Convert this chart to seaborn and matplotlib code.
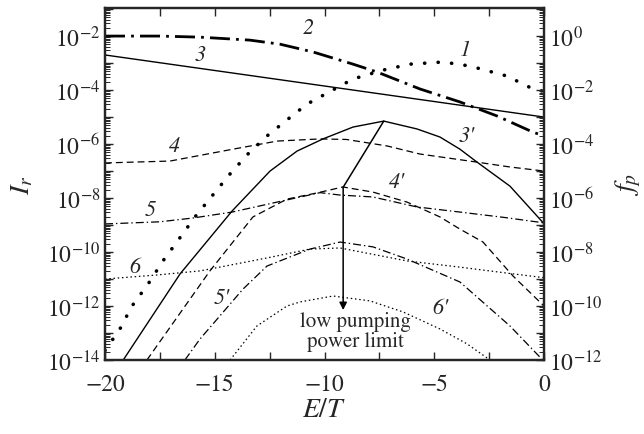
import numpy as np
import pandas as pd
import matplotlib
matplotlib.use("Agg")
import matplotlib.pyplot as plt
import matplotlib.ticker as mticker
import seaborn as sns

# curves: x = E/T, values are log10(I_r)
x1 = [-20, -19.32, -18.77, -18.04, -17.36, -16.63, -15.9, -15.13, -14.35, -13.49,
      -12.62, -11.21, -10.62, -8.70, -7.33, -6.10, -4.60, -3.37, -1.69, -0.50, 0]
lg1 = [-13.65, -12.85, -12.0, -11.19, -10.33, -9.52, -8.70, -7.93, -7.15, -6.37,
       -5.70, -4.78, -4.44, -3.59, -3.26, -3.04, -2.96, -3.11, -3.48, -3.96, -4.05]

x2 = [-20, -17.5, -15.67, -13.4, -12.03, -10.52, -8.70, -7.61, -5.65, -3.83, -2.14, -0.50, 0]
lg2 = [-2.0, -2.0, -2.04, -2.15, -2.30, -2.59, -3.04, -3.33, -3.96, -4.44, -4.96, -5.56, -5.70]

x3 = [-20, 0]
lg3 = [-2.70, -5.0]

x3p = [-19.25, -18.18, -16.58, -14.21, -12.48, -11.25, -10.07, -8.70, -7.3, -5.79,
       -4.74, -3.83, -3.05, -1.55, 0]
lg3p = [-14.1, -12.78, -10.81, -8.48, -7.0, -6.26, -5.81, -5.37, -5.15, -5.44,
        -5.74, -6.19, -6.67, -7.56, -8.95]

x4 = [-20, -17.04, -14.17, -12.16, -10.2, -9.0, -7.15, -5.65, -3.05, -1.55, 0]
lg4 = [-6.70, -6.63, -6.19, -5.89, -5.81, -5.83, -6.07, -6.37, -6.67, -6.85, -7.0]

x4p = [-18.09, -15.22, -13.26, -11.71, -10.34, -9.16, -7.79, -6.24, -4.74, -3.83,
       -2.78, -1.41, 0]
lg4p = [-14.0, -10.70, -8.70, -8.04, -7.81, -7.59, -7.78, -8.15, -8.70, -9.15,
        -9.63, -10.89, -12.0]

x5 = [-20, -17.5, -15.99, -14.21, -12.16, -10.2, -9.29, -7.8, -5.79, -3.83, -1.8, 0]
lg5 = [-8.96, -8.88, -8.74, -8.52, -8.15, -7.80, -7.89, -7.96, -8.33, -8.52, -8.72, -8.92]

x5p = [-16.36, -15.67, -13.71, -12.62, -10.66, -9.29, -7.79, -6.24, -3.83, -1.55, 0]
lg5p = [-14.0, -13.22, -11.37, -10.52, -9.89, -9.63, -9.81, -10.26, -11.11, -12.74, -14.05]

x6 = [-20, -17.63, -15.67, -12.62, -10.66, -9.29, -6.24, -3.83, -1.5, 0]
lg6 = [-11.0, -10.85, -10.70, -10.22, -9.89, -9.85, -10.33, -10.56, -10.8, -10.95]

x6p = [-14.3, -13.08, -11.71, -11.12, -9.61, -7.93, -6.42, -4.74, -3.51, -2.46]
lg6p = [-14.0, -12.74, -12.0, -11.85, -11.63, -11.81, -12.22, -12.85, -13.4, -14.0]

# curve labels: text, x, log10(I_r)
lab_text = ["1", "2", "3", "3'", "4", "4'", "5", "6", "5'", "6'"]
lab_x = [-3.60, -10.75, -15.67, -3.51, -16.81, -6.70, -17.95, -18.63, -14.67, -4.74]
lab_lg = [-2.48, -1.67, -2.67, -5.70, -6.07, -7.37, -8.41, -10.52, -11.67, -12.04]

# low pumping power limit arrow
arrow_x = [-7.3, -9.15, -9.15]
arrow_lg = [-5.15, -7.6, -12.15]


def curve_df(x, lg):
    return pd.DataFrame({"E/T": x, "Ir": 10.0 ** np.array(lg)})


def main():
    sns.set_style("ticks")
    plt.rcParams["font.family"] = ["STIXGeneral", "DejaVu Serif"]
    plt.rcParams["mathtext.fontset"] = "stix"

    fig = plt.figure(figsize=(6.44, 4.35), dpi=100)
    ax = fig.add_axes([105 / 644, 74 / 435, 439 / 644, 352 / 435])

    thin = 0.9
    styles = [
        (x1, lg1, dict(lw=2.6, linestyle=(0, (0.05, 3.7)), dash_capstyle="round")),
        (x2, lg2, dict(lw=2.0, linestyle=(0, (7.2, 2.2, 1.0, 2.2)))),
        (x3, lg3, dict(lw=1.0, linestyle="-")),
        (x3p, lg3p, dict(lw=1.0, linestyle="-")),
        (x4, lg4, dict(lw=thin, linestyle=(0, (5.5, 3.2)))),
        (x4p, lg4p, dict(lw=thin, linestyle=(0, (5.5, 3.2)))),
        (x5, lg5, dict(lw=thin, linestyle=(0, (6.4, 2.4, 1.1, 2.4)))),
        (x5p, lg5p, dict(lw=thin, linestyle=(0, (6.4, 2.4, 1.1, 2.4)))),
        (x6, lg6, dict(lw=thin, linestyle=(0, (1.2, 2.2)))),
        (x6p, lg6p, dict(lw=thin, linestyle=(0, (1.2, 2.2)))),
    ]
    for x, lg, kw in styles:
        sns.lineplot(data=curve_df(x, lg), x="E/T", y="Ir", ax=ax, color="black",
                     sort=False, estimator=None, **kw)

    ax.set_yscale("log")
    ax.set_xlim(-20, 0)
    ax.set_ylim(1e-14, 10 ** -0.96)

    # arrow
    ax.plot(arrow_x[:2], [10 ** v for v in arrow_lg[:2]], color="black", lw=1.1)
    ax.annotate("", xy=(arrow_x[2], 10 ** arrow_lg[2]), xytext=(arrow_x[1], 10 ** arrow_lg[1]),
                arrowprops=dict(arrowstyle="-|>", color="black", lw=1.1,
                                mutation_scale=11, shrinkA=0, shrinkB=0))
    ax.text(-8.57, 10 ** -12.93, "low pumping\npower limit", ha="center", va="center",
            fontsize=15, linespacing=0.95)

    for t, x, lg in zip(lab_text, lab_x, lab_lg):
        ax.text(x, 10 ** lg, t, ha="center", va="center", fontsize=16, fontstyle="italic")

    def even_decades(v, pos):
        e = int(round(np.log10(v)))
        return f"$10^{{{e}}}$" if e % 2 == 0 else ""

    ax2 = ax.twinx()
    ax2.set_yscale("log")
    ax2.set_ylim(1e-12, 10 ** 1.04)

    for a in (ax, ax2):
        a.yaxis.set_major_locator(mticker.LogLocator(base=10, numticks=40))
        a.yaxis.set_minor_locator(mticker.LogLocator(base=10, subs=np.arange(2, 10), numticks=40))
        a.yaxis.set_major_formatter(mticker.FuncFormatter(even_decades))
        a.yaxis.set_minor_formatter(mticker.NullFormatter())
        for s in a.spines.values():
            s.set_linewidth(1.6)

    ax.xaxis.set_major_locator(mticker.MultipleLocator(5))
    ax.xaxis.set_minor_locator(mticker.MultipleLocator(2.5))
    ax.tick_params(axis="x", which="both", direction="in", top=True, length=6, width=1,
                   labelsize=17, pad=10)
    ax.tick_params(axis="y", which="major", direction="in", left=True, right=False,
                   length=6, width=1, labelsize=17)
    ax.tick_params(axis="y", which="minor", direction="in", left=True, right=False,
                   length=3.5, width=0.7)
    ax2.tick_params(axis="y", which="major", direction="in", length=6, width=1, labelsize=17)
    ax2.tick_params(axis="y", which="minor", direction="in", length=3.5, width=0.7)

    ax.set_xlabel("$E/T$", fontsize=20, labelpad=1)
    ax.set_ylabel("$I_r$", fontsize=20, labelpad=8)
    ax2.set_ylabel("$f_p$", fontsize=20, labelpad=8)

    fig.savefig("out.png", dpi=100)


if __name__ == "__main__":
    main()
